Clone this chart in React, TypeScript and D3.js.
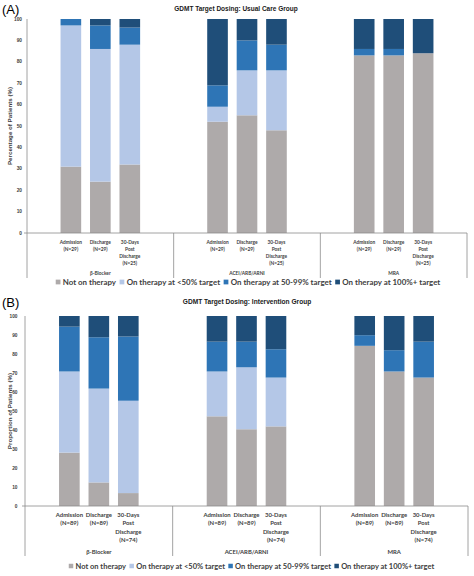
import React, { useEffect, useRef } from "react";
import * as d3 from "d3";

// ---------- DATA ----------
const groups = ["β-Blocker", "ACEI/ARB/ARNI", "MRA"];
const seriesNames = [
  "Not on therapy",
  "On therapy at <50% target",
  "On therapy at 50-99% target",
  "On therapy at 100%+ target",
];
const seriesColors = ["#AEAAAA", "#B4C7E7", "#2E75B6", "#1F4E79"];

const timeLabelsA = [
  ["Admission", "(N=29)"],
  ["Discharge", "(N=29)"],
  ["30-Days", "Post", "Discharge", "(N=25)"],
];
const timeLabelsB = [
  ["Admission", "(N=89)"],
  ["Discharge", "(N=89)"],
  ["30-Days", "Post", "Discharge", "(N=74)"],
];

// order: β-Blocker (Adm, Dis, 30d), ACEI/ARB/ARNI (...), MRA (...)
const notOnA = [31, 24, 32, 52, 55, 48, 83, 83, 84];
const lt50A = [66, 62, 56, 7, 21, 28, 0, 0, 0];
const mid50A = [3, 11, 8, 10, 14, 12, 3, 3, 0];
const full100A = [0, 3, 4, 31, 10, 12, 14, 14, 16];

const notOnB = [28.1, 12.4, 6.8, 47.2, 40.4, 41.9, 84.3, 70.8, 67.6];
const lt50B = [42.7, 49.4, 48.6, 23.6, 32.6, 25.7, 0, 0, 0];
const mid50B = [23.6, 27.0, 33.8, 15.7, 13.5, 14.9, 5.6, 11.2, 18.9];
const full100B = [5.6, 11.2, 10.8, 13.5, 13.5, 17.5, 10.1, 18.0, 13.5];

const yTicks = [0, 10, 20, 30, 40, 50, 60, 70, 80, 90, 100];

const titleA = "GDMT Target Dosing: Usual Care Group";
const titleB = "GDMT Target Dosing: Intervention Group";
const yTitleA = "Percentage of Patients (%)";
const yTitleB = "Proportion of Patients (%)";

// ---------- LAYOUT ----------
type Cfg = {
  tag: string;
  tagY: number;
  title: string;
  titleX: number;
  titleY: number;
  titleSize: number;
  yTitle: string;
  yTitleX: number;
  yTitleSize: number;
  xL: number;
  xR: number;
  yTop: number;
  yBot: number;
  tickX: number;
  tickSize: number;
  labY: number;
  labStep: number;
  labSize: number;
  groupY: number;
  divBot: number;
  legY: number;
  legCenter: number;
  legSize: number;
  times: string[][];
  series: number[][];
};

const labelColor = "#404040";
const axisColor = "#8c8c8c";

function drawPanel(svg: d3.Selection<SVGSVGElement, unknown, null, undefined>, c: Cfg) {
  const g = svg.append("g");
  const x0 = d3.scaleBand<string>().domain(groups).range([c.xL, c.xR]);
  const x1 = d3
    .scaleBand<string>()
    .domain(["0", "1", "2"])
    .range([-44.5, 44.5])
    .paddingInner(0.3)
    .paddingOuter(0.16);
  const y = d3.scaleLinear().domain([0, 100]).range([c.yBot, c.yTop]);

  const rows = groups.flatMap((gn, gi) =>
    [0, 1, 2].map((ti) => ({
      group: gn,
      t: String(ti),
      vals: c.series.map((s) => s[gi * 3 + ti]),
    }))
  );
  const stack = d3
    .stack<any, number>()
    .keys([0, 1, 2, 3])
    .value((d: any, k: number) => d.vals[k]);
  const stacked = stack(rows);

  const barX = (d: any) => (x0(d.group) as number) + x0.bandwidth() / 2 + (x1(d.t) as number);

  stacked.forEach((layer, li) => {
    g.append("g")
      .selectAll("rect")
      .data(layer)
      .join("rect")
      .attr("x", (d: any) => barX(d.data))
      .attr("width", x1.bandwidth())
      .attr("y", (d: any) => y(d[1]))
      .attr("height", (d: any) => Math.max(0, y(d[0]) - y(d[1])))
      .attr("fill", seriesColors[li]);
  });

  // axes lines
  g.append("line")
    .attr("x1", c.xL)
    .attr("x2", c.xL)
    .attr("y1", c.yTop)
    .attr("y2", c.divBot)
    .attr("stroke", axisColor)
    .attr("stroke-width", 0.8);
  g.append("line")
    .attr("x1", c.xL - 3)
    .attr("x2", c.xR)
    .attr("y1", c.yBot)
    .attr("y2", c.yBot)
    .attr("stroke", axisColor)
    .attr("stroke-width", 0.8);
  // group dividers
  groups.forEach((gn) => {
    const xe = (x0(gn) as number) + x0.step();
    g.append("line")
      .attr("x1", xe)
      .attr("x2", xe)
      .attr("y1", c.yBot)
      .attr("y2", c.divBot)
      .attr("stroke", axisColor)
      .attr("stroke-width", 0.8);
  });

  // y ticks
  g.append("g")
    .selectAll("text")
    .data(yTicks)
    .join("text")
    .attr("x", c.tickX)
    .attr("y", (d) => y(d))
    .attr("dy", "0.35em")
    .attr("text-anchor", "end")
    .attr("font-family", "Liberation Sans, Arial, sans-serif")
    .attr("font-weight", "bold")
    .attr("font-size", c.tickSize)
    .attr("fill", labelColor)
    .text((d) => String(d));

  // y title
  g.append("text")
    .attr("transform", `translate(${c.yTitleX},${(c.yTop + c.yBot) / 2}) rotate(-90)`)
    .attr("text-anchor", "middle")
    .attr("dy", "0.35em")
    .attr("font-family", "Liberation Sans, Arial, sans-serif")
    .attr("font-weight", "bold")
    .attr("font-size", c.yTitleSize)
    .attr("fill", "#404040")
    .text(c.yTitle);

  // category labels
  rows.forEach((r) => {
    const cx = barX(r) + x1.bandwidth() / 2;
    const lines = c.times[Number(r.t)];
    lines.forEach((ln, li) => {
      g.append("text")
        .attr("x", cx)
        .attr("y", c.labY + li * c.labStep)
        .attr("dy", "0.35em")
        .attr("text-anchor", "middle")
        .attr("font-family", "Lato, sans-serif")
        .attr("font-weight", "bold")
        .attr("font-size", c.labSize)
        .attr("fill", labelColor)
        .text(ln);
    });
  });
  groups.forEach((gn) => {
    g.append("text")
      .attr("x", (x0(gn) as number) + x0.bandwidth() / 2)
      .attr("y", c.groupY)
      .attr("dy", "0.35em")
      .attr("text-anchor", "middle")
      .attr("font-family", "Lato, sans-serif")
      .attr("font-weight", "bold")
      .attr("font-size", c.labSize)
      .attr("fill", labelColor)
      .text(gn);
  });

  // title
  g.append("text")
    .attr("x", c.titleX)
    .attr("y", c.titleY)
    .attr("dy", "0.35em")
    .attr("text-anchor", "middle")
    .attr("font-family", "Liberation Sans, Arial, sans-serif")
    .attr("font-weight", "bold")
    .attr("font-size", c.titleSize)
    .attr("fill", "#1a1a1a")
    .text(c.title);

  // panel tag
  g.append("text")
    .attr("x", 2)
    .attr("y", c.tagY)
    .attr("dy", "0.35em")
    .attr("font-family", "Liberation Sans, Arial, sans-serif")
    .attr("font-size", 13)
    .attr("fill", "#000")
    .text(c.tag);

  // legend
  const lg = g.append("g");
  const mk = c.legSize * 0.6;
  const gapMT = c.legSize * 0.3;
  const gapItem = c.legSize * 0.45;
  let cur = 0;
  seriesNames.forEach((nm, i) => {
    lg.append("rect")
      .attr("x", cur)
      .attr("y", c.legY - mk / 2)
      .attr("width", mk)
      .attr("height", mk)
      .attr("fill", seriesColors[i]);
    cur += mk + gapMT;
    const t = lg
      .append("text")
      .attr("x", cur)
      .attr("y", c.legY)
      .attr("dy", "0.35em")
      .attr("font-family", "Lato, sans-serif")
      .attr("font-weight", "bold")
      .attr("font-size", c.legSize)
      .attr("fill", labelColor)
      .text(nm);
    const w = (t.node() as SVGTextElement).getComputedTextLength();
    cur += w + gapItem;
  });
  const total = cur - gapItem;
  lg.attr("transform", `translate(${c.legCenter - total / 2},0)`);
}

export default function App() {
  const ref = useRef<SVGSVGElement>(null);
  useEffect(() => {
    document.body.style.margin = "0";
    const svg = d3.select(ref.current as SVGSVGElement);
    svg.selectAll("*").remove();
    svg.append("rect").attr("width", 474).attr("height", 576).attr("fill", "#fff");
    drawPanel(svg, {
      tag: "(A)",
      tagY: 9,
      title: titleA,
      titleX: 236,
      titleY: 9,
      titleSize: 6.5,
      yTitle: yTitleA,
      yTitleX: 10,
      yTitleSize: 6.2,
      xL: 27,
      xR: 467,
      yTop: 19,
      yBot: 233,
      tickX: 22,
      tickSize: 4.8,
      labY: 242,
      labStep: 7,
      labSize: 4.8,
      groupY: 273,
      divBot: 278,
      legY: 282,
      legCenter: 248,
      legSize: 7.9,
      times: timeLabelsA,
      series: [notOnA, lt50A, mid50A, full100A],
    });
    drawPanel(svg, {
      tag: "(B)",
      tagY: 302,
      title: titleB,
      titleX: 247,
      titleY: 302,
      titleSize: 6.6,
      yTitle: yTitleB,
      yTitleX: 9.5,
      yTitleSize: 6.2,
      xL: 25,
      xR: 468,
      yTop: 316,
      yBot: 506,
      tickX: 17.5,
      tickSize: 4.8,
      labY: 515,
      labStep: 8.4,
      labSize: 5.9,
      groupY: 552,
      divBot: 556,
      legY: 566,
      legCenter: 251.5,
      legSize: 7.5,
      times: timeLabelsB,
      series: [notOnB, lt50B, mid50B, full100B],
    });
  }, []);
  return <svg ref={ref} width={474} height={576} style={{ display: "block" }} />;
}
